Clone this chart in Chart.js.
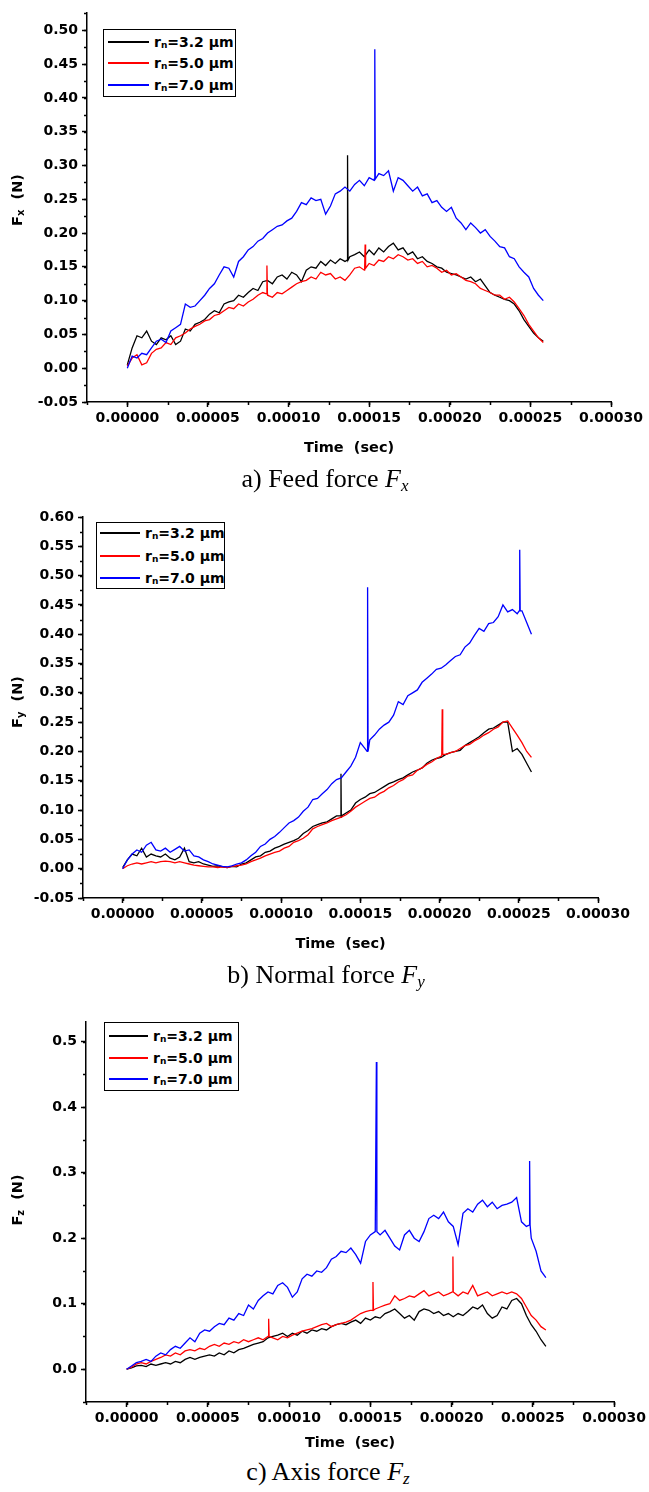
<!DOCTYPE html>
<html>
<head>
<meta charset="utf-8">
<script src="https://cdn.jsdelivr.net/npm/chart.js@4.4.1/dist/chart.umd.min.js"></script>
<style>
  html, body { margin: 0; padding: 0; background: #fff; }
  #page { position: relative; width: 649px; height: 1492px; overflow: hidden; }
  canvas { position: absolute; left: 0; }
  .ytitle {
    position: absolute; white-space: pre;
    font: bold 14.5px "DejaVu Sans", sans-serif; color: #000;
    transform: translate(-50%, -50%) rotate(-90deg);
  }
  .ytitle sub { font-size: 10px; vertical-align: -2px; }
  .legend { position: absolute; box-sizing: border-box; border: 1.5px solid #000; background: #fff; }
  .legend .swatch { position: absolute; height: 2px; }
  .legend .label {
    position: absolute; white-space: nowrap; line-height: 16px; margin-top: -8px;
    font: bold 14px "DejaVu Sans", sans-serif; color: #000;
  }
  .legend .label sub { font-size: 9px; vertical-align: -1px; }
  .caption {
    position: absolute; white-space: nowrap; transform: translate(-50%, -50%);
    font: 26px "Liberation Serif", "Times New Roman", serif; color: #000;
  }
  .caption i sub { font-size: 17px; vertical-align: -4px; }
</style>
</head>
<body>
<div id="page">
  <canvas id="fx" width="649" height="457"></canvas>
  <canvas id="fy" width="649" height="463"></canvas>
  <canvas id="fz" width="649" height="462"></canvas>

  <div class="ytitle" style="left:17px; top:200px">F<sub>x</sub>  (N)</div>
  <div class="ytitle" style="left:17px; top:702px">F<sub>y</sub>  (N)</div>
  <div class="ytitle" style="left:17px; top:1200px">F<sub>z</sub>  (N)</div>

  <div class="caption" style="left:325px; top:480px">a) Feed force <i>F<sub>x</sub></i></div>
  <div class="caption" style="left:326px; top:976px">b) Normal force <i>F<sub>y</sub></i></div>
  <div class="caption" style="left:328px; top:1473px">c) Axis force <i>F<sub>z</sub></i></div>
</div>

<script>
// sample times in microseconds
const TIME_US = [0, 3, 6, 9, 12, 15, 18, 21, 24, 27, 30, 33, 36, 39, 42, 45, 48, 51, 54, 57,
  60, 63, 66, 69, 72, 75, 78, 81, 84, 87, 90, 93, 96, 99, 102, 105, 108, 111, 114, 117,
  120, 123, 126, 129, 132, 135, 138, 141, 144, 147, 150, 153, 156, 159, 162, 165, 168, 171, 174, 177,
  180, 183, 186, 189, 192, 195, 198, 201, 204, 207, 210, 213, 216, 219, 222, 225, 228, 231, 234, 237,
  240, 243, 246, 249, 252, 255, 258];

const RADII = ["3.2", "5.0", "7.0"];
const COLORS = ["#000000", "#ff0000", "#0000ff"];

// feed force Fx (N)
const FX_32 = [0.005, 0.030, 0.048, 0.045, 0.055, 0.040, 0.035, 0.045, 0.042, 0.048,
  0.035, 0.040, 0.058, 0.055, 0.065, 0.068, 0.072, 0.080, 0.085, 0.082,
  0.095, 0.098, 0.100, 0.108, 0.105, 0.112, 0.118, 0.115, 0.128, 0.130,
  0.125, 0.135, 0.138, 0.132, 0.142, 0.138, 0.128, 0.145, 0.150, 0.148,
  0.158, 0.152, 0.160, 0.155, 0.162, 0.158, 0.165, 0.168, 0.172, 0.165,
  0.175, 0.168, 0.178, 0.172, 0.180, 0.185, 0.175, 0.178, 0.168, 0.172,
  0.162, 0.165, 0.158, 0.155, 0.150, 0.148, 0.142, 0.140, 0.138, 0.135,
  0.132, 0.135, 0.128, 0.132, 0.122, 0.112, 0.108, 0.105, 0.102, 0.100,
  0.095, 0.085, 0.072, 0.062, 0.052, 0.045, 0.040];
const FX_50 = [0.003, 0.015, 0.020, 0.005, 0.008, 0.022, 0.028, 0.030, 0.038, 0.035,
  0.045, 0.048, 0.052, 0.058, 0.062, 0.065, 0.070, 0.072, 0.078, 0.080,
  0.085, 0.090, 0.088, 0.095, 0.092, 0.098, 0.102, 0.108, 0.112, 0.108,
  0.105, 0.112, 0.110, 0.115, 0.120, 0.125, 0.128, 0.130, 0.135, 0.132,
  0.142, 0.138, 0.140, 0.132, 0.135, 0.130, 0.138, 0.148, 0.150, 0.145,
  0.155, 0.152, 0.160, 0.158, 0.165, 0.162, 0.168, 0.165, 0.160, 0.162,
  0.155, 0.158, 0.150, 0.152, 0.148, 0.142, 0.145, 0.138, 0.140, 0.135,
  0.130, 0.128, 0.125, 0.118, 0.115, 0.112, 0.108, 0.108, 0.102, 0.105,
  0.098, 0.088, 0.078, 0.065, 0.055, 0.045, 0.038];
const FX_70 = [0.000, 0.018, 0.015, 0.022, 0.020, 0.030, 0.040, 0.043, 0.038, 0.055,
  0.060, 0.065, 0.095, 0.090, 0.092, 0.100, 0.108, 0.118, 0.125, 0.138,
  0.150, 0.148, 0.135, 0.158, 0.165, 0.175, 0.180, 0.188, 0.192, 0.200,
  0.205, 0.210, 0.212, 0.218, 0.222, 0.232, 0.245, 0.242, 0.252, 0.248,
  0.250, 0.228, 0.240, 0.258, 0.262, 0.268, 0.262, 0.272, 0.278, 0.270,
  0.282, 0.278, 0.288, 0.285, 0.292, 0.262, 0.282, 0.278, 0.270, 0.262,
  0.268, 0.255, 0.258, 0.245, 0.248, 0.238, 0.232, 0.238, 0.222, 0.215,
  0.205, 0.215, 0.208, 0.200, 0.205, 0.195, 0.188, 0.180, 0.178, 0.165,
  0.162, 0.150, 0.142, 0.135, 0.118, 0.108, 0.100];

// normal force Fy (N)
const FY_32 = [0.002, 0.015, 0.025, 0.022, 0.035, 0.020, 0.025, 0.022, 0.020, 0.025,
  0.018, 0.015, 0.020, 0.035, 0.012, 0.010, 0.012, 0.008, 0.006, 0.004,
  0.005, 0.003, 0.002, 0.004, 0.003, 0.008, 0.010, 0.015, 0.020, 0.022,
  0.028, 0.030, 0.035, 0.038, 0.042, 0.045, 0.048, 0.052, 0.060, 0.065,
  0.072, 0.075, 0.078, 0.080, 0.085, 0.090, 0.088, 0.095, 0.100, 0.112,
  0.118, 0.122, 0.128, 0.130, 0.135, 0.140, 0.145, 0.148, 0.152, 0.155,
  0.160, 0.165, 0.168, 0.172, 0.180, 0.185, 0.188, 0.190, 0.195, 0.198,
  0.200, 0.202, 0.210, 0.215, 0.220, 0.225, 0.232, 0.238, 0.240, 0.245,
  0.250, 0.250, 0.200, 0.205, 0.195, 0.180, 0.165];
const FY_50 = [0.000, 0.005, 0.008, 0.010, 0.008, 0.010, 0.012, 0.010, 0.012, 0.013,
  0.012, 0.010, 0.012, 0.010, 0.008, 0.006, 0.005, 0.004, 0.003, 0.003,
  0.002, 0.003, 0.002, 0.004, 0.005, 0.006, 0.008, 0.012, 0.015, 0.018,
  0.022, 0.025, 0.028, 0.030, 0.035, 0.038, 0.045, 0.048, 0.052, 0.058,
  0.068, 0.072, 0.075, 0.078, 0.082, 0.085, 0.088, 0.092, 0.098, 0.105,
  0.110, 0.115, 0.120, 0.122, 0.128, 0.132, 0.138, 0.142, 0.148, 0.152,
  0.158, 0.160, 0.168, 0.172, 0.178, 0.182, 0.188, 0.192, 0.195, 0.198,
  0.200, 0.205, 0.210, 0.212, 0.218, 0.222, 0.228, 0.232, 0.238, 0.242,
  0.250, 0.252, 0.240, 0.228, 0.215, 0.200, 0.190];
const FY_70 = [0.000, 0.015, 0.025, 0.032, 0.028, 0.040, 0.045, 0.032, 0.030, 0.035,
  0.028, 0.033, 0.038, 0.030, 0.032, 0.022, 0.020, 0.015, 0.012, 0.008,
  0.006, 0.004, 0.003, 0.005, 0.008, 0.010, 0.015, 0.022, 0.028, 0.038,
  0.042, 0.050, 0.055, 0.062, 0.070, 0.078, 0.082, 0.088, 0.098, 0.105,
  0.118, 0.120, 0.128, 0.135, 0.145, 0.152, 0.155, 0.165, 0.175, 0.190,
  0.215, 0.205, 0.220, 0.228, 0.238, 0.245, 0.250, 0.262, 0.285, 0.280,
  0.295, 0.300, 0.305, 0.318, 0.325, 0.332, 0.340, 0.342, 0.348, 0.355,
  0.362, 0.365, 0.378, 0.385, 0.398, 0.410, 0.405, 0.418, 0.420, 0.430,
  0.450, 0.438, 0.442, 0.435, 0.440, 0.420, 0.400];

// axis force Fz (N)
const FZ_32 = [0.000, 0.002, 0.005, 0.006, 0.004, 0.008, 0.006, 0.008, 0.010, 0.008,
  0.012, 0.010, 0.015, 0.018, 0.015, 0.018, 0.020, 0.022, 0.020, 0.025,
  0.022, 0.028, 0.025, 0.030, 0.032, 0.035, 0.038, 0.040, 0.042, 0.048,
  0.050, 0.052, 0.055, 0.050, 0.055, 0.052, 0.058, 0.055, 0.060, 0.058,
  0.062, 0.060, 0.065, 0.068, 0.070, 0.068, 0.072, 0.075, 0.070, 0.078,
  0.075, 0.080, 0.078, 0.085, 0.088, 0.092, 0.085, 0.078, 0.082, 0.075,
  0.088, 0.092, 0.090, 0.085, 0.088, 0.082, 0.085, 0.080, 0.085, 0.082,
  0.088, 0.095, 0.092, 0.098, 0.085, 0.078, 0.082, 0.095, 0.092, 0.105,
  0.108, 0.100, 0.082, 0.068, 0.058, 0.045, 0.035];
const FZ_50 = [0.000, 0.003, 0.008, 0.010, 0.008, 0.012, 0.015, 0.018, 0.022, 0.020,
  0.025, 0.022, 0.028, 0.030, 0.028, 0.032, 0.030, 0.035, 0.038, 0.035,
  0.040, 0.038, 0.042, 0.040, 0.045, 0.042, 0.045, 0.048, 0.045, 0.050,
  0.048, 0.045, 0.050, 0.048, 0.052, 0.055, 0.058, 0.060, 0.062, 0.065,
  0.068, 0.070, 0.065, 0.068, 0.070, 0.072, 0.075, 0.080, 0.085, 0.088,
  0.090, 0.092, 0.095, 0.098, 0.100, 0.112, 0.105, 0.108, 0.112, 0.110,
  0.115, 0.120, 0.112, 0.115, 0.118, 0.112, 0.115, 0.118, 0.112, 0.118,
  0.115, 0.128, 0.112, 0.115, 0.118, 0.112, 0.115, 0.118, 0.115, 0.118,
  0.115, 0.108, 0.095, 0.082, 0.075, 0.065, 0.060];
const FZ_70 = [0.000, 0.005, 0.010, 0.012, 0.015, 0.012, 0.020, 0.025, 0.022, 0.030,
  0.035, 0.032, 0.040, 0.048, 0.042, 0.055, 0.060, 0.058, 0.065, 0.070,
  0.068, 0.078, 0.075, 0.085, 0.082, 0.098, 0.092, 0.105, 0.112, 0.118,
  0.115, 0.128, 0.132, 0.125, 0.110, 0.118, 0.138, 0.145, 0.142, 0.150,
  0.148, 0.155, 0.168, 0.172, 0.180, 0.178, 0.185, 0.175, 0.162, 0.195,
  0.205, 0.210, 0.205, 0.212, 0.200, 0.188, 0.182, 0.205, 0.212, 0.200,
  0.195, 0.210, 0.230, 0.235, 0.230, 0.240, 0.225, 0.218, 0.190, 0.238,
  0.245, 0.240, 0.252, 0.258, 0.248, 0.255, 0.245, 0.250, 0.252, 0.255,
  0.262, 0.225, 0.218, 0.200, 0.180, 0.150, 0.140];

// single-sample spikes: [series index, time us, level around it, peak]
const FX_SPIKES = [[2, 153.5, 0.280, 0.472], [0, 136.6, 0.160, 0.315], [1, 86.6, 0.110, 0.152], [1, 147.5, 0.148, 0.183]];
const FY_SPIKES = [[2, 154.6, 0.200, 0.480], [2, 250.6, 0.440, 0.544], [0, 137.8, 0.090, 0.162], [1, 201.7, 0.195, 0.272]];
const FZ_SPIKES = [[2, 153.7, 0.210, 0.469], [2, 248.0, 0.220, 0.318], [1, 87.4, 0.050, 0.077], [1, 151.6, 0.090, 0.133], [1, 200.8, 0.118, 0.172]];

const PANELS = [
  { id: "fx", top: 0, pad: { top: 10, right: 38 }, yWidth: 87, xHeight: 55,
    yMin: -0.05, yMax: 0.5265, yStep: 0.05, yMinor: 0.025, digits: 2,
    series: [FX_32, FX_50, FX_70], spikes: FX_SPIKES,
    legend: { left: 103, top: 29, width: 133, height: 68, lineX: 4, lineW: 41, textX: 50, rows: [13, 34, 56] } },
  { id: "fy", top: 490, pad: { top: 27, right: 51 }, yWidth: 83, xHeight: 55,
    yMin: -0.05, yMax: 0.60, yStep: 0.05, yMinor: 0.025, digits: 2,
    series: [FY_32, FY_50, FY_70], spikes: FY_SPIKES,
    legend: { left: 96, top: 522, width: 129, height: 67, lineX: 3, lineW: 40, textX: 48, rows: [11, 34, 56] } },
  { id: "fz", top: 990, pad: { top: 32, right: 33 }, yWidth: 86, xHeight: 50,
    yMin: -0.05, yMax: 0.53, yStep: 0.1, yMinor: 0.05, digits: 1,
    series: [FZ_32, FZ_50, FZ_70], spikes: FZ_SPIKES,
    legend: { left: 104, top: 1022, width: 135, height: 69, lineX: 4, lineW: 39, textX: 48, rows: [14, 36, 57] } }
];

const AXIS_FONT = { family: "DejaVu Sans", weight: "bold", size: 14 };
const onStep = (v, step) => Math.abs(v / step - Math.round(v / step)) < 1e-6;

function buildPoints(values, spikes, idx) {
  const pts = TIME_US.map((t, i) => ({ x: t, y: values[i] }));
  spikes.filter(s => s[0] === idx).forEach(([, t, level, peak]) => {
    pts.push({ x: t - 0.3, y: level }, { x: t, y: peak }, { x: t + 0.3, y: level });
  });
  return pts.sort((a, b) => a.x - b.x);
}

// Origin-style short minor ticks between the labelled ones
const minorTicks = {
  id: "minorTicks",
  afterDraw(chart, args, opts) {
    const { ctx } = chart;
    const xs = chart.scales.x, ys = chart.scales.y;
    ctx.save();
    ctx.strokeStyle = "#000";
    ctx.lineWidth = 1.5;
    ctx.beginPath();
    for (let k = 0; ; k++) {
      const v = xs.min + k * opts.x;
      if (v > xs.max + 1e-9) break;
      const px = Math.round(xs.getPixelForValue(v)) + 0.5;
      ctx.moveTo(px, xs.top);
      ctx.lineTo(px, xs.top + 3);
    }
    for (let k = 0; ; k++) {
      const v = ys.min + k * opts.y;
      if (v > ys.max + 1e-9) break;
      const py = Math.round(ys.getPixelForValue(v)) + 0.5;
      ctx.moveTo(ys.right, py);
      ctx.lineTo(ys.right - 3, py);
    }
    ctx.stroke();
    ctx.restore();
  }
};

function drawLegend(p) {
  const box = document.createElement("div");
  box.className = "legend";
  Object.assign(box.style, {
    left: p.legend.left + "px", top: p.legend.top + "px",
    width: p.legend.width + "px", height: p.legend.height + "px"
  });
  RADII.forEach((r, i) => {
    const sw = document.createElement("div");
    sw.className = "swatch";
    Object.assign(sw.style, {
      left: p.legend.lineX + "px", width: p.legend.lineW + "px",
      top: (p.legend.rows[i] - 2) + "px", background: COLORS[i]
    });
    const lab = document.createElement("div");
    lab.className = "label";
    lab.style.left = p.legend.textX + "px";
    lab.style.top = (p.legend.rows[i] - 1.5) + "px";
    lab.innerHTML = "r<sub>n</sub>=" + r + " \u03bcm";
    box.append(sw, lab);
  });
  document.getElementById("page").appendChild(box);
}

PANELS.forEach(p => {
  const canvas = document.getElementById(p.id);
  canvas.style.top = p.top + "px";

  new Chart(canvas, {
    type: "line",
    data: {
      datasets: p.series.map((vals, i) => ({
        label: "r\u2099=" + RADII[i] + " \u03bcm",
        data: buildPoints(vals, p.spikes, i),
        borderColor: COLORS[i],
        borderWidth: 1.3,
        pointRadius: 0,
        tension: 0,
        order: 3 - i
      }))
    },
    options: {
      responsive: false,
      animation: false,
      devicePixelRatio: 1,
      layout: { padding: { top: p.pad.top, right: p.pad.right, left: 0, bottom: 0 } },
      plugins: {
        legend: { display: false },
        tooltip: { enabled: false },
        minorTicks: { x: 25, y: p.yMinor }
      },
      scales: {
        x: {
          type: "linear",
          min: -25, max: 300,
          afterFit: s => { s.height = p.xHeight; },
          afterBuildTicks: s => { s.ticks = s.ticks.filter(t => onStep(t.value, 50)); },
          ticks: {
            stepSize: 50, autoSkip: false, maxRotation: 0, padding: 3,
            color: "#000", font: AXIS_FONT,
            callback: v => (v / 1e6).toFixed(5)
          },
          grid: { drawOnChartArea: false, drawTicks: true, tickLength: 5, tickColor: "#000", tickWidth: 1.5 },
          border: { display: true, color: "#000", width: 1.5 },
          title: {
            display: true, text: "Time  (sec)", color: "#000",
            font: { family: "DejaVu Sans", weight: "bold", size: 14.5 },
            padding: { top: 0, bottom: 0 }
          }
        },
        y: {
          min: p.yMin, max: p.yMax,
          afterFit: s => { s.width = p.yWidth; },
          afterBuildTicks: s => { s.ticks = s.ticks.filter(t => onStep(t.value, p.yStep)); },
          ticks: {
            stepSize: p.yStep, autoSkip: false, padding: 4,
            color: "#000", font: AXIS_FONT,
            callback: v => v.toFixed(p.digits)
          },
          grid: { drawOnChartArea: false, drawTicks: true, tickLength: 5, tickColor: "#000", tickWidth: 1.5 },
          border: { display: true, color: "#000", width: 1.5 }
        }
      }
    },
    plugins: [minorTicks]
  });

  drawLegend(p);
});
</script>
</body>
</html>
